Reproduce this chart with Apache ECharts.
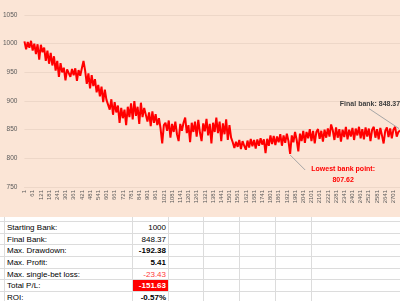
<!DOCTYPE html>
<html>
<head>
<meta charset="utf-8">
<script src="https://cdn.jsdelivr.net/npm/echarts@6/dist/echarts.min.js"></script>
<style>
  html, body { margin: 0; padding: 0; background: #ffffff; width: 400px; height: 301px; overflow: hidden; }
  #chart { position: absolute; left: 0; top: 0; width: 400px; height: 217px; }
  #table { position: absolute; left: 0; top: 217px; width: 400px; height: 84px; font-family: 'Liberation Sans', Arial, sans-serif; font-size: 8px; color: #000; }
  .hl { position: absolute; left: 0; width: 400px; height: 1px; background: #dcdcdc; }
  .vl { position: absolute; top: 0; width: 1px; height: 84px; background: #dcdcdc; }
  .lab { position: absolute; left: 7px; height: 11px; line-height: 11px; white-space: nowrap; }
  .val { position: absolute; left: 133px; width: 33px; height: 11px; line-height: 11px; text-align: right; white-space: nowrap; }
  .fill { position: absolute; left: 133px; width: 35px; height: 11px; background: #ff0000; }
</style>
</head>
<body>
<div id="chart"></div>
<div id="table"></div>
<script>
// Bank value readings, one per 12 bets (bet 1, 13, 25, ...)
const bankValues = [
  1004, 990, 1003, 993, 1005, 988,
  1000, 982, 999, 972, 998, 985,
  993, 970, 988, 965, 984, 962,
  978, 953, 970, 942, 966, 950,
  958, 936, 955,
  955, 942, 956, 945, 957, 935, 954, 944, 957, 970,
  953, 930, 948, 922, 945, 926, 938, 915,
  928, 908, 925, 898, 920, 902,
  905, 885, 903, 876, 898, 880,
  892, 862, 888, 870, 885, 858, 890, 872,
  896, 868, 900, 874, 890, 860, 897, 872, 888,
  885, 864, 880, 856, 882, 862, 877, 858, 870,
  852, 826, 858,
  862, 848, 866, 836, 860, 846, 864, 842, 830, 860,
  848, 862, 871, 844, 858, 828, 862, 846, 864, 838,
  867, 845, 830, 861, 847, 869, 840, 860, 826, 862,
  846, 871, 844, 864, 830, 861, 842, 868, 832, 858,
  836,
  828, 818, 829,
  820, 832, 816, 830, 822, 815, 831, 819, 834, 821,
  832, 817, 833, 822, 835, 824, 833,
  809,
  834, 822, 840, 825, 839, 823, 838, 828, 842, 822,
  840, 827, 843, 830,
  807.62,
  840, 828, 846, 832, 812, 843, 830, 848, 827, 846,
  835, 851, 830, 848, 826, 846, 851, 834, 848, 829,
  850, 836, 852, 838,
  859,
  849, 832, 854, 836, 851, 829, 850, 837, 855, 833,
  850, 838, 853, 832, 852, 840, 855, 835, 851, 833,
  854, 838, 852, 830, 850, 855, 836, 851, 833, 853,
  840, 826, 848, 854, 837, 852, 835, 850, 855, 838,
  846, 848.37
];
const betStep = 12;
const betNumbers = bankValues.map((v, i) => String(1 + i * betStep));
const yTicks = [750, 800, 850, 900, 950, 1000, 1050];

const tableLabels = ['Starting Bank:', 'Final Bank:', 'Max. Drawdown:', 'Max. Profit:', 'Max. single-bet loss:', 'Total P/L:', 'ROI:'];
const tableValues = ['1000', '848.37', '-192.38', '5.41', '-23.43', '-151.63', '-0.57%'];
const tableStyles = ['normal', 'normal', 'bold', 'bold', 'red', 'fill', 'bold'];

const FONT = "'Liberation Sans', Arial, sans-serif";
const chart = echarts.init(document.getElementById('chart'), null, { renderer: 'canvas' });
chart.setOption({
  animation: false,
  backgroundColor: '#FBE5D6',
  grid: { left: 22, right: 0, top: 15, height: 172, containLabel: false },
  xAxis: {
    type: 'category',
    data: betNumbers,
    boundaryGap: false,
    axisLine: { show: true, lineStyle: { color: '#EDD7C8', width: 1 } },
    axisTick: { show: false },
    axisLabel: { interval: 4, rotate: 90, fontSize: 6, color: '#595959', margin: 3, fontFamily: FONT },
    splitLine: { show: false }
  },
  yAxis: {
    type: 'value',
    min: yTicks[0],
    max: yTicks[yTicks.length - 1],
    interval: 50,
    axisLine: { show: false },
    axisTick: { show: false },
    axisLabel: { fontSize: 6.5, color: '#595959', margin: 7, fontFamily: FONT, formatter: v => String(v) },
    splitLine: { show: true, lineStyle: { color: '#EDD7C8', width: 1 } }
  },
  series: [{
    type: 'line',
    data: bankValues,
    symbol: 'none',
    lineStyle: { color: '#ff0000', width: 2 },
    z: 3
  }]
});

// annotations anchored on data points
let minIdx = 0;
bankValues.forEach((v, i) => { if (v < bankValues[minIdx]) minIdx = i; });
const lastIdx = bankValues.length - 1;
const pMin = chart.convertToPixel({ seriesIndex: 0 }, [minIdx, bankValues[minIdx]]);
const pLast = chart.convertToPixel({ seriesIndex: 0 }, [lastIdx, bankValues[lastIdx]]);
chart.setOption({
  graphic: [
    { type: 'line', shape: { x1: pMin[0], y1: pMin[1] + 1, x2: pMin[0] + 15, y2: pMin[1] + 16 }, style: { stroke: '#a6a6a6', lineWidth: 1 }, z: 10 },
    { type: 'text', x: pMin[0] + 53, y: pMin[1] + 15, style: { text: 'Lowest bank point:', fill: '#ff0000', font: 'bold 7px ' + FONT, align: 'center', verticalAlign: 'middle' }, z: 10 },
    { type: 'text', x: pMin[0] + 53, y: pMin[1] + 26, style: { text: bankValues[minIdx].toFixed(2), fill: '#ff0000', font: 'bold 7px ' + FONT, align: 'center', verticalAlign: 'middle' }, z: 10 },
    { type: 'line', shape: { x1: pLast[0] - 31, y1: pLast[1] - 22, x2: pLast[0] - 1, y2: pLast[1] - 2 }, style: { stroke: '#a6a6a6', lineWidth: 1 }, z: 10 },
    { type: 'text', x: pLast[0] - 30, y: pLast[1] - 27, style: { text: 'Final bank: ' + bankValues[lastIdx].toFixed(2), fill: '#404040', font: 'bold 7px ' + FONT, align: 'center', verticalAlign: 'middle' }, z: 10 }
  ]
});

// spreadsheet table below the chart
const table = document.getElementById('table');
const rowTop = 4, rowH = 11.67;
const colLines = [4, 132, 168, 203, 239, 275, 311];
let html = '';
for (let k = 0; k <= tableLabels.length; k++) {
  html += '<div class="hl" style="top:' + (rowTop + k * rowH).toFixed(1) + 'px"></div>';
}
colLines.forEach(x => { html += '<div class="vl" style="left:' + x + 'px"></div>'; });
tableLabels.forEach((lab, k) => {
  const top = (rowTop + k * rowH + 1).toFixed(1);
  const st = tableStyles[k];
  if (st === 'fill') html += '<div class="fill" style="top:' + top + 'px"></div>';
  let style = 'top:' + top + 'px;';
  if (st === 'bold') style += 'font-weight:bold;';
  if (st === 'red') style += 'color:#ff3b3b;';
  if (st === 'fill') style += 'font-weight:bold;color:#ffffff;';
  html += '<div class="lab" style="top:' + top + 'px">' + lab + '</div>';
  html += '<div class="val" style="' + style + '">' + tableValues[k] + '</div>';
});
table.innerHTML = html;
</script>
</body>
</html>
